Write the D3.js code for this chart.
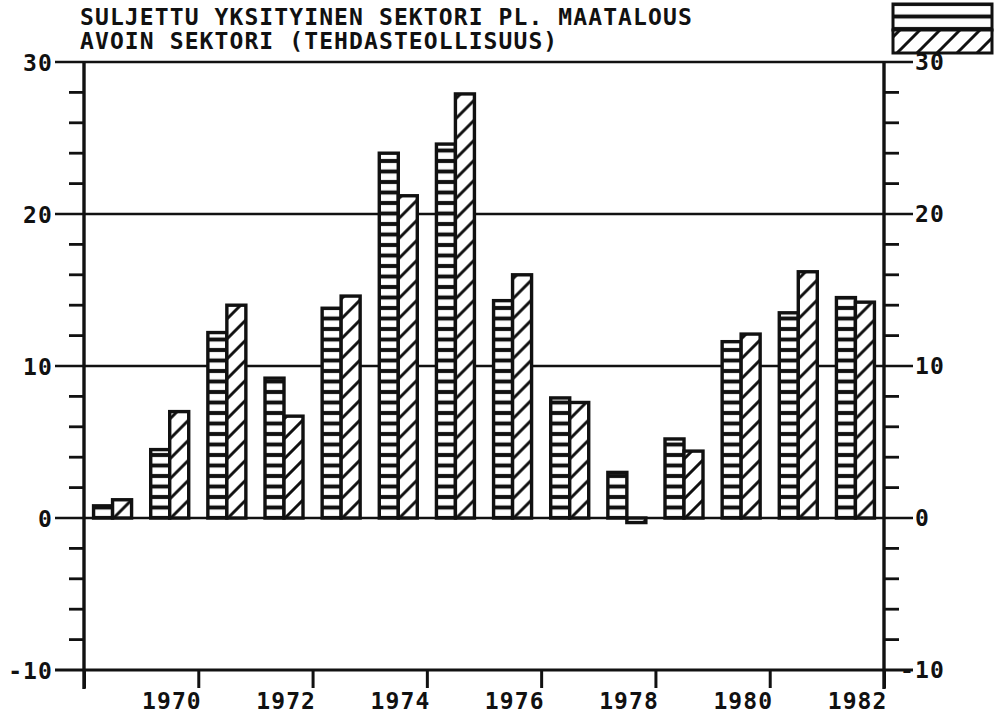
<!DOCTYPE html>
<html>
  <head>
    <meta charset="utf-8" />
    <script src="https://d3js.org/d3.v7.min.js"></script>
    <style>
      body {
        margin: 0;
        background: #ffffff;
      }
      svg text {
        font-family: "DejaVu Sans Mono", monospace;
        font-weight: bold;
        font-size: 23px;
        letter-spacing: 1.1px;
        fill: #111111;
      }
    </style>
  </head>

  <body>
    <div id="chartContainer"></div>
  </body>

  <script type="text/javascript">
    const years = [
      1969, 1970, 1971, 1972, 1973, 1974, 1975, 1976, 1977, 1978, 1979, 1980,
      1981, 1982,
    ];
    const closedSector = [
      0.8, 4.5, 12.2, 9.2, 13.8, 24.0, 24.6, 14.3, 7.9, 3.0, 5.2, 11.6, 13.5,
      14.5,
    ];
    const openSector = [
      1.2, 7.0, 14.0, 6.7, 14.6, 21.2, 27.9, 16.0, 7.6, -0.3, 4.4, 12.1, 16.2,
      14.2,
    ];
    const seriesNames = [
      "SULJETTU YKSITYINEN SEKTORI PL. MAATALOUS",
      "AVOIN SEKTORI (TEHDASTEOLLISUUS)",
    ];
    const yMajorTicks = [-10, 0, 10, 20, 30];
    const yMinorTicks = [
      -8, -6, -4, -2, 2, 4, 6, 8, 12, 14, 16, 18, 22, 24, 26, 28,
    ];
    const xTickYears = [1968, 1970, 1972, 1974, 1976, 1978, 1980, 1982];

    const ink = "#111111";
    const width = 995,
      height = 723;
    const plotLeft = 84,
      plotRight = 884,
      plotTop = 62,
      plotBottom = 670;

    const svg = d3
      .select("#chartContainer")
      .append("svg")
      .attr("width", width)
      .attr("height", height);

    const y = d3.scaleLinear().domain([-10, 30]).range([plotBottom, plotTop]);
    const x = d3
      .scaleBand()
      .domain(years)
      .range([plotLeft, plotRight])
      .paddingInner(0.335)
      .paddingOuter(0.1675);
    const xSub = d3
      .scaleBand()
      .domain(["closed", "open"])
      .range([0, x.bandwidth()]);
    const xTick = d3
      .scaleLinear()
      .domain([1968, 1982])
      .range([plotLeft, plotRight]);

    // patterns
    const defs = svg.append("defs");
    function stripes(id, period, y0) {
      const p = defs
        .append("pattern")
        .attr("id", id)
        .attr("patternUnits", "userSpaceOnUse")
        .attr("width", 10)
        .attr("height", period)
        .attr("patternTransform", `translate(0, ${y0})`);
      p.append("rect")
        .attr("width", 10)
        .attr("height", period)
        .attr("fill", "#fff");
      p.append("rect")
        .attr("y", -2)
        .attr("width", 10)
        .attr("height", 4)
        .attr("fill", ink);
      p.append("rect")
        .attr("y", period - 2)
        .attr("width", 10)
        .attr("height", 4)
        .attr("fill", ink);
    }
    function hatch(id, period, y0) {
      const p = defs
        .append("pattern")
        .attr("id", id)
        .attr("patternUnits", "userSpaceOnUse")
        .attr("width", period)
        .attr("height", period)
        .attr("patternTransform", `translate(0, ${y0})`);
      p.append("rect")
        .attr("width", period)
        .attr("height", period)
        .attr("fill", "#fff");
      p.append("path")
        .attr(
          "d",
          `M0,${period} L${period},0 M${-period / 4},${period / 4} L${period / 4},${-period / 4} M${(period * 3) / 4},${(period * 5) / 4} L${(period * 5) / 4},${(period * 3) / 4}`
        )
        .attr("stroke", ink)
        .attr("stroke-width", 3);
    }
    stripes("stripes", 10.5, y(0));
    hatch("hatch", 20, y(0));
    stripes("legendStripes", 12.5, 4);
    hatch("legendHatch", 20, 30);

    // gridlines at major values, running through both tick sides
    svg
      .append("g")
      .selectAll("line")
      .data(yMajorTicks)
      .enter()
      .append("line")
      .attr("x1", plotLeft - 29)
      .attr("x2", plotRight + 29)
      .attr("y1", (d) => y(d))
      .attr("y2", (d) => y(d))
      .attr("stroke", ink)
      .attr("stroke-width", (d) => (d === -10 ? 3 : 2.4));

    // bars
    const rows = years.map((yr, i) => ({
      year: yr,
      values: [
        { key: "closed", value: closedSector[i] },
        { key: "open", value: openSector[i] },
      ],
    }));

    const groups = svg
      .append("g")
      .selectAll("g")
      .data(rows)
      .enter()
      .append("g")
      .attr("transform", (d) => `translate(${x(d.year)},0)`);

    groups
      .selectAll("rect")
      .data((d) => d.values)
      .enter()
      .append("rect")
      .attr("x", (d) => xSub(d.key))
      .attr("width", xSub.bandwidth())
      .attr("y", (d) => y(Math.max(0, d.value)))
      .attr("height", (d) => Math.abs(y(d.value) - y(0)))
      .attr("fill", (d) =>
        d.key === "closed" ? "url(#stripes)" : "url(#hatch)"
      )
      .attr("stroke", ink)
      .attr("stroke-width", 3.4);

    // left axis
    const axisLeft = svg
      .append("g")
      .attr("transform", `translate(${plotLeft},0)`)
      .call(
        d3
          .axisLeft(y)
          .tickValues(yMajorTicks)
          .tickSize(0)
          .tickPadding(31)
          .tickFormat((d) => String(d))
      );
    axisLeft.select(".domain").remove();
    axisLeft.attr("font-family", null).attr("font-size", null);
    axisLeft.selectAll("text").attr("dy", "0.36em");

    svg
      .append("g")
      .selectAll("line")
      .data(yMinorTicks)
      .enter()
      .append("line")
      .attr("x1", plotLeft - 15)
      .attr("x2", plotLeft)
      .attr("y1", (d) => y(d))
      .attr("y2", (d) => y(d))
      .attr("stroke", ink)
      .attr("stroke-width", 2.8);

    svg
      .append("g")
      .selectAll("line")
      .data(yMinorTicks)
      .enter()
      .append("line")
      .attr("x1", plotRight)
      .attr("x2", plotRight + 15)
      .attr("y1", (d) => y(d))
      .attr("y2", (d) => y(d))
      .attr("stroke", ink)
      .attr("stroke-width", 2.8);

    // right axis labels
    svg
      .append("g")
      .selectAll("text")
      .data(yMajorTicks)
      .enter()
      .append("text")
      .attr("x", (d) => (d < 0 ? plotRight + 31 - 15 : plotRight + 31))
      .attr("y", (d) => y(d))
      .attr("dy", "0.36em")
      .text((d) => String(d));

    // vertical axis lines
    [plotLeft, plotRight].forEach((xv) => {
      svg
        .append("line")
        .attr("x1", xv)
        .attr("x2", xv)
        .attr("y1", plotTop)
        .attr("y2", plotBottom + 19)
        .attr("stroke", ink)
        .attr("stroke-width", 3.4);
    });

    // bottom axis
    const axisBottom = svg
      .append("g")
      .attr("transform", `translate(0,${plotBottom})`)
      .call(
        d3
          .axisBottom(xTick)
          .tickValues(xTickYears)
          .tickSize(18)
          .tickPadding(7)
          .tickFormat((d) => (d === 1968 ? "" : String(d)))
      );
    axisBottom.select(".domain").remove();
    axisBottom.attr("font-family", null).attr("font-size", null);
    axisBottom.selectAll("line").attr("stroke", ink).attr("stroke-width", 3);
    axisBottom
      .selectAll("text")
      .attr("text-anchor", "end")
      .attr("x", 3)
      .attr("dy", "14px");

    // titles
    svg
      .append("g")
      .selectAll("text")
      .data(seriesNames)
      .enter()
      .append("text")
      .attr("x", 80)
      .attr("y", (d, i) => 25 + i * 24)
      .text((d) => d);

    // legend
    const legend = svg.append("g");
    legend
      .append("rect")
      .attr("x", 893)
      .attr("y", 4)
      .attr("width", 99)
      .attr("height", 26)
      .attr("fill", "url(#legendStripes)")
      .attr("stroke", ink)
      .attr("stroke-width", 3);
    legend
      .append("rect")
      .attr("x", 893)
      .attr("y", 30)
      .attr("width", 99)
      .attr("height", 23)
      .attr("fill", "url(#legendHatch)")
      .attr("stroke", ink)
      .attr("stroke-width", 3);
  </script>
</html>
